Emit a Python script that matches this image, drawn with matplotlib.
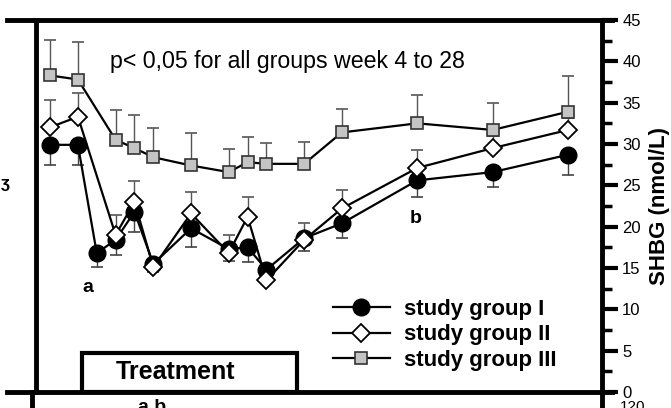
import matplotlib
matplotlib.use("Agg")
import matplotlib.pyplot as plt
from matplotlib.lines import Line2D
from matplotlib.patches import Rectangle
from matplotlib.ticker import MultipleLocator

plt.rcParams['font.family'] = ['Liberation Sans', 'DejaVu Sans']

# ---- data (weeks, SHBG nmol/L) ----
weeks_g1 = [-1.5, 0, 1, 2, 3, 4, 6, 8, 9, 10, 12, 14, 18, 22, 26]
shbg_g1 = [29.9, 29.9, 16.8, 18.4, 21.8, 15.5, 19.8, 17.3, 17.5, 14.8, 18.6, 20.4, 25.6, 26.6, 28.7]
err_g1 = [2.5, 2.5, 1.7, 1.8, 2.5, 1.0, 2.3, 1.5, 1.8, 1.3, 1.5, 1.8, 2.0, 1.8, 2.5]

weeks_g23 = [-1.5, 0, 2, 3, 4, 6, 8, 9, 10, 12, 14, 18, 22, 26]
shbg_g2 = [32.0, 33.3, 19.0, 23.0, 15.1, 21.6, 16.8, 21.2, 13.5, 18.4, 22.2, 27.1, 29.5, 31.7]
err_g2 = [3.3, 2.9, 2.4, 2.5, 1.0, 2.6, 2.2, 2.4, 1.0, 2.0, 2.2, 2.2, 1.5, 1.5]

shbg_g3 = [38.3, 37.8, 30.5, 29.5, 28.4, 27.4, 26.6, 27.8, 27.6, 27.6, 31.4, 32.5, 31.7, 33.9]
err_g3 = [4.3, 4.5, 3.6, 4.0, 3.5, 3.9, 2.8, 3.0, 2.5, 2.6, 2.8, 3.4, 3.2, 4.3]

labels = ["study group I", "study group II", "study group III"]
yticks = [0, 5, 10, 15, 20, 25, 30, 35, 40, 45]
treatment_start, treatment_end, treatment_height = 0.2, 11.6, 4.7

W, H = 671, 408
fig = plt.figure(figsize=(W / 100, H / 100), dpi=100)
L, R, T, B = 35.5, 602, 20, 392
ax = fig.add_axes([L / W, 1 - B / H, (R - L) / W, (B - T) / H])

ax.set_xlim(-2.25, 27.8)
ax.set_ylim(0, 45)

# error bars (one-sided)
zeros1 = [0] * len(err_g1)
zeros23 = [0] * len(err_g2)
ax.errorbar(weeks_g1, shbg_g1, yerr=[err_g1, zeros1], fmt='none', ecolor='#444444',
            elinewidth=1.0, capsize=4, capthick=1.2, zorder=2)
ax.errorbar(weeks_g23, shbg_g2, yerr=[zeros23, err_g2], fmt='none', ecolor='#555555',
            elinewidth=1.0, capsize=4, capthick=1.2, zorder=2)
ax.errorbar(weeks_g23, shbg_g3, yerr=[zeros23, err_g3], fmt='none', ecolor='#555555',
            elinewidth=1.0, capsize=4, capthick=1.2, zorder=2)

# lines + markers
ax.plot(weeks_g23, shbg_g3, color='black', lw=1.6, marker='s', ms=9,
        mfc='#c4c4c4', mec='#333333', mew=1.2, zorder=3, label=labels[2])
ax.plot(weeks_g1, shbg_g1, color='black', lw=1.6, marker='o', ms=12,
        mfc='black', mec='black', zorder=4, label=labels[0])
ax.plot(weeks_g23, shbg_g2, color='black', lw=1.6, marker='D', ms=9.5,
        mfc='white', mec='black', mew=1.3, zorder=5, label=labels[1])

# spines / ticks
for s in ['left', 'right', 'top', 'bottom']:
    ax.spines[s].set_linewidth(3.5)
ax.xaxis.set_visible(False)
ax.yaxis.tick_right()
ax.yaxis.set_label_position('right')
ax.set_yticks(yticks)
ax.yaxis.set_minor_locator(MultipleLocator(2.5))
ax.tick_params(axis='y', which='major', length=11.5, width=3, pad=3, labelsize=12,
               direction='out', right=True, left=False)
ax.tick_params(axis='y', which='minor', length=7.5, width=2.5, direction='out',
               right=True, left=False)
ax.set_ylabel("SHBG (nmol/L)", fontsize=16, fontweight='bold', labelpad=6)

# treatment box
ax.add_patch(Rectangle((treatment_start, 0), treatment_end - treatment_start, treatment_height,
                       fill=False, lw=3, ec='black', zorder=6, clip_on=False))
ax.text((treatment_start + treatment_end) / 2 - 0.75, treatment_height / 2 + 0.1, "Treatment",
        ha='center', va='center', fontsize=18, fontweight='bold', zorder=7)

# annotations
ax.text(1.7, 40.0, "p< 0,05 for all groups week 4 to 28", fontsize=16.7,
        ha='left', va='center')
ax.text(0.5, 12.7, "a", fontsize=14, fontweight='bold', ha='center', va='center')
ax.text(17.9, 21.0, "b", fontsize=14, fontweight='bold', ha='center', va='center')

# legend
handles, labs = ax.get_legend_handles_labels()
order = [labs.index(l) for l in labels]
ax.legend([handles[i] for i in order], [labs[i] for i in order],
          loc='upper left', bbox_to_anchor=(0.525, 0.25), frameon=False,
          prop={'weight': 'bold', 'size': 16}, handlelength=2.55, handletextpad=0.65,
          labelspacing=0.2, borderaxespad=0, borderpad=0, numpoints=1)

# frame extensions from neighbouring panels (cropped figure)
lw_ext = 3.5
fig.add_artist(Line2D([7 / W, L / W], [1 - T / H, 1 - T / H], lw=lw_ext, color='black'))
fig.add_artist(Line2D([7 / W, L / W], [1 - B / H, 1 - B / H], lw=lw_ext, color='black'))
fig.add_artist(Line2D([R / W, 612 / W], [1 - T / H, 1 - T / H], lw=lw_ext, color='black'))
fig.add_artist(Line2D([R / W, 612 / W], [1 - B / H, 1 - B / H], lw=lw_ext, color='black'))
fig.add_artist(Line2D([32 / W, 32 / W], [1 - B / H, 0], lw=lw_ext, color='black'))
fig.add_artist(Line2D([R / W, R / W], [1 - B / H, 0], lw=lw_ext, color='black'))
fig.text(138 / W, 1 - 399 / H, "a b", fontsize=14, fontweight='bold', va='top', ha='left')
fig.text(620 / W, 1 - 400 / H, "120", fontsize=11, va='top', ha='left')
fig.text(1 / W, 1 - 184 / H, "ʒ", fontsize=12, fontweight='bold', va='center', ha='left')

fig.savefig("out.png", dpi=100)
